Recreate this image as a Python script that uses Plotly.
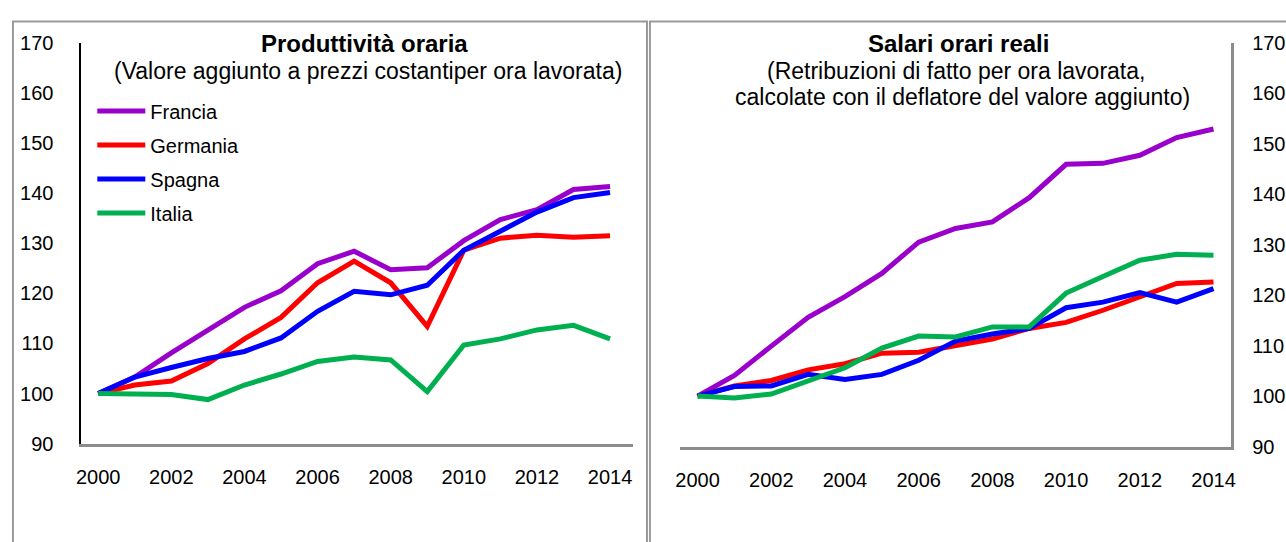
import plotly.graph_objects as go

years = list(range(2000, 2015))
countries = ["Francia", "Germania", "Spagna", "Italia"]
colors = ["#9900CC", "#FF0000", "#0000FF", "#00B050"]

# Produttività oraria (2000=100)
prod_francia = [100, 103.3, 108.1, 112.7, 117.2, 120.5, 125.9, 128.4, 124.7, 125.1, 130.5, 134.7, 136.7, 140.7, 141.3]
prod_germania = [100, 101.7, 102.5, 106.0, 110.9, 115.2, 122.1, 126.4, 122.1, 113.4, 128.6, 131.0, 131.6, 131.2, 131.5]
prod_spagna = [100, 103.3, 105.2, 107.0, 108.4, 111.1, 116.4, 120.4, 119.7, 121.6, 128.6, 132.4, 136.2, 139.1, 140.1]
prod_italia = [100, 100.0, 99.8, 98.8, 101.7, 103.9, 106.4, 107.3, 106.7, 100.4, 109.7, 110.9, 112.7, 113.6, 110.9]

# Salari orari reali (2000=100)
sal_francia = [100, 104.1, 109.9, 115.6, 119.7, 124.3, 130.5, 133.2, 134.5, 139.3, 145.9, 146.1, 147.7, 151.2, 152.9]
sal_germania = [100, 102.0, 103.1, 105.2, 106.4, 108.5, 108.7, 110.1, 111.3, 113.4, 114.6, 117.0, 119.6, 122.3, 122.6]
sal_spagna = [100, 101.9, 102.0, 104.3, 103.3, 104.3, 107.1, 110.9, 112.3, 113.4, 117.5, 118.6, 120.5, 118.6, 121.3]
sal_italia = [100, 99.6, 100.4, 102.9, 105.6, 109.5, 111.9, 111.7, 113.7, 113.7, 120.4, 123.7, 126.9, 128.1, 127.9]

x_ticks = [2000, 2002, 2004, 2006, 2008, 2010, 2012, 2014]
y_ticks = [90, 100, 110, 120, 130, 140, 150, 160, 170]

left_title = "<b>Produttività oraria</b>"
left_sub = "(Valore aggiunto a prezzi costantiper ora lavorata)"
right_title = "<b>Salari orari reali</b>"
right_sub1 = "(Retribuzioni di fatto per ora lavorata,"
right_sub2 = "calcolate con il deflatore del valore aggiunto)"

W, H = 1286, 542
FONT = "Liberation Sans, Arial, sans-serif"

prod = [prod_francia, prod_germania, prod_spagna, prod_italia]
sal = [sal_francia, sal_germania, sal_spagna, sal_italia]

fig = go.Figure()
for name, col, vals in zip(countries, colors, prod):
    fig.add_trace(go.Scatter(x=years, y=vals, mode="lines", name=name,
                             line=dict(color=col, width=5),
                             legendgroup=name, xaxis="x", yaxis="y"))
for name, col, vals in zip(countries, colors, sal):
    fig.add_trace(go.Scatter(x=years, y=vals, mode="lines", name=name,
                             line=dict(color=col, width=5), showlegend=False,
                             legendgroup=name, xaxis="x2", yaxis="y2"))

def px(x):
    return x / W

def py(y):
    return 1 - y / H

tickfont = dict(family=FONT, size=20, color="#000")

fig.update_layout(
    autosize=True,
    margin=dict(l=0, r=0, t=0, b=0),
    paper_bgcolor="white", plot_bgcolor="white",
    font=dict(family=FONT, color="#000"),
    xaxis=dict(domain=[px(77), px(633)], range=[1999.54, 2014.63],
               tickvals=x_ticks, showgrid=False, zeroline=False,
               showline=True, linecolor="#8c8c8c", linewidth=2.5,
               ticks="", tickfont=tickfont, ticklabelstandoff=14, anchor="y"),
    yaxis=dict(domain=[py(451), py(33)], range=[90, 170], tickvals=y_ticks,
               showgrid=False, zeroline=False, showline=True,
               linecolor="#000", linewidth=2, ticks="", tickfont=tickfont,
               ticklabelstandoff=22, anchor="x"),
    xaxis2=dict(domain=[px(680), px(1236)], range=[1999.515, 2014.485],
                tickvals=x_ticks, showgrid=False, zeroline=False,
                showline=True, linecolor="#8c8c8c", linewidth=2.5,
                ticks="", tickfont=tickfont, ticklabelstandoff=14, anchor="y2"),
    yaxis2=dict(domain=[py(454), py(33)], range=[90, 170], tickvals=y_ticks,
                side="right", showgrid=False, zeroline=False, showline=True,
                linecolor="#8c8c8c", linewidth=2.5, ticks="", tickfont=tickfont,
                ticklabelstandoff=14, anchor="x2"),
    legend=dict(x=px(88), y=py(84), xanchor="left", yanchor="top",
                bgcolor="rgba(0,0,0,0)", font=dict(family=FONT, size=20, color="#000"),
                itemwidth=48, tracegroupgap=5, traceorder="grouped"),
    showlegend=True,
)

fig.add_shape(type="rect", xref="paper", yref="paper",
              x0=px(8), x1=px(647), y0=-0.1, y1=py(11),
              line=dict(color="#9a9a9a", width=2), layer="below")
fig.add_shape(type="rect", xref="paper", yref="paper",
              x0=px(650), x1=1.1, y0=-0.1, y1=py(11),
              line=dict(color="#9a9a9a", width=2), layer="below")

def ann(text, x, y, size):
    fig.add_annotation(text=text, x=px(x), y=py(y), xref="paper", yref="paper",
                       xanchor="center", yanchor="middle", showarrow=False,
                       font=dict(family=FONT, size=size, color="#000"))

ann(left_title, 362, 34, 24)
ann(left_sub, 366, 63, 23)
ann(right_title, 961, 34, 24)
ann(right_sub1, 958, 63, 23)
ann(right_sub2, 965, 90, 23)

fig.write_html("out.html",
               default_width="100vw", default_height="100vh",
               config={"displayModeBar": False, "responsive": True},
               post_script="document.body.style.margin='0';document.body.style.overflow='hidden';")
